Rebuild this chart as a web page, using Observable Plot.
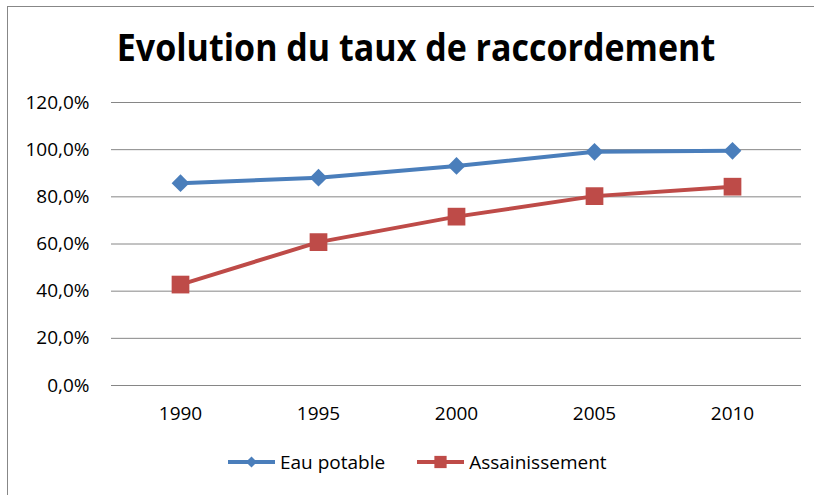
<!DOCTYPE html>
<html>
<head>
<meta charset="utf-8">
<script src="https://cdn.jsdelivr.net/npm/d3@7"></script>
<script src="https://cdn.jsdelivr.net/npm/@observablehq/plot@0.6"></script>
<style>
  html, body { margin: 0; padding: 0; background: #fff; overflow: hidden; }
  #page { position: relative; width: 814px; height: 495px; font-family: "Open Sans", sans-serif; }
  #frame { position: absolute; left: 7px; top: 6px; right: 0; bottom: 0; border-left: 1px solid #878787; border-top: 1px solid #878787; }
  #title { position: absolute; left: 0; width: 832px; top: 31px; text-align: center; font-size: 34px; font-weight: 700; line-height: 1; color: #000; transform: scaleY(1.1); transform-origin: 50% 100%; }
  #chart { position: absolute; left: 0; top: 0; }
  #legend { position: absolute; left: 228px; top: 452px; display: flex; align-items: center; font-size: 19px; line-height: 1; color: #000; }
  .item { display: flex; align-items: center; }
  .item svg { margin-right: 5px; }
</style>
</head>
<body>
<div id="page">
  <div id="frame"></div>
  <div id="title">Evolution du taux de raccordement</div>
  <div id="chart"></div>
  <div id="legend"></div>
</div>
<script>
const years = [1990, 1995, 2000, 2005, 2010];
const eauPotable = [85.8, 88.1, 93.1, 99.1, 99.5];
const assainissement = [42.8, 60.8, 71.6, 80.3, 84.3];
const yTicks = [0, 20, 40, 60, 80, 100, 120];
const seriesNames = ["Eau potable", "Assainissement"];
const seriesColors = ["#4a7ebb", "#be4b48"];
const seriesSymbols = ["diamond2", "square"];

const data = years.flatMap((yr, i) => [
  {year: yr, value: eauPotable[i], series: seriesNames[0]},
  {year: yr, value: assainissement[i], series: seriesNames[1]}
]);

const fmt = d => d.toFixed(1).replace(".", ",") + "%";

const chart = Plot.plot({
  width: 814,
  height: 440,
  marginTop: 102,
  marginBottom: 55,
  marginLeft: 111,
  marginRight: 13,
  style: {fontFamily: "Open Sans, sans-serif", fontSize: "19px", color: "#000", background: "transparent", overflow: "visible"},
  x: {type: "point", domain: years, padding: 0.5, tickSize: 0, tickPadding: 21, tickFormat: d => String(d), label: null},
  y: {domain: [0, 120], ticks: yTicks, tickSize: 0, tickPadding: 22, tickFormat: fmt, label: null},
  color: {domain: seriesNames, range: seriesColors},
  marks: [
    Plot.ruleY(yTicks, {stroke: "#868686", strokeWidth: 1}),
    Plot.line(data, {x: "year", y: "value", z: "series", stroke: "series", strokeWidth: 4}),
    Plot.dot(data.filter(d => d.series === seriesNames[0]), {x: "year", y: "value", fill: "series", symbol: () => seriesSymbols[0], r: 8}),
    Plot.dot(data.filter(d => d.series === seriesNames[1]), {x: "year", y: "value", fill: "series", symbol: () => seriesSymbols[1], r: 10})
  ]
});
document.getElementById("chart").appendChild(chart);

// Legend
const legend = d3.select("#legend");
seriesNames.forEach((name, i) => {
  const item = legend.append("div").attr("class", "item").style("margin-right", i === 0 ? "32px" : "0");
  const svg = item.append("svg").attr("width", 47).attr("height", 20);
  svg.append("line").attr("x1", 0).attr("x2", 47).attr("y1", 10).attr("y2", 10)
    .attr("stroke", seriesColors[i]).attr("stroke-width", 4);
  const sym = i === 0 ? d3.symbolDiamond2 : d3.symbolSquare;
  const size = i === 0 ? 80 : 150;
  svg.append("path").attr("transform", "translate(23.5,10)")
    .attr("d", d3.symbol(sym, size)()).attr("fill", seriesColors[i]);
  item.append("span").text(name);
});
</script>
</body>
</html>
